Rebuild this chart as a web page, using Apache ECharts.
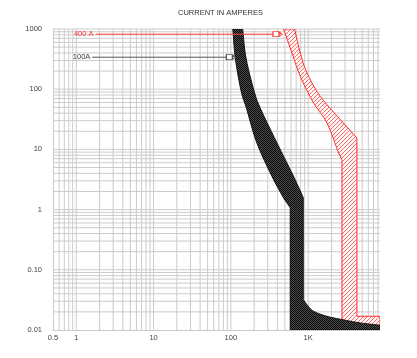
<!DOCTYPE html>
<html><head><meta charset="utf-8">
<script src="https://cdn.jsdelivr.net/npm/echarts@6/dist/echarts.min.js"></script>
<style>html,body{margin:0;padding:0;background:#fff}#c{width:417px;height:358px}</style>
</head><body><div id="c"></div>
<script>
// ---- data ----
const xTickValues = [0.5, 1, 10, 100, 1000];
const xTickLabels = ['0.5', '1', '10', '100', '1K'];
const yTickValues = [0.01, 0.1, 1, 10, 100, 1000];
const yTickLabels = ['0.01', '0.10', '1', '10', '100', '1000'];
const xGridValues = [0.6,0.7,0.8,0.9,1,2,3,4,5,6,7,8,9,10,20,30,40,50,60,70,80,90,100,200,300,400,500,600,700,800,900,1000,2000,3000,4000,5000,6000,7000,8000];
const yGridValues = [0.02,0.03,0.04,0.05,0.06,0.07,0.08,0.09,0.1,0.2,0.3,0.4,0.5,0.6,0.7,0.8,0.9,1,2,3,4,5,6,7,8,9,10,20,30,40,50,60,70,80,90,100,200,300,400,500,600,700,800,900,1000];
// black band (100A): [current A, time s]
const blackLeftCurve = [[106,1000],[114,331],[136,92.3],[161,45.8],[217,12.8],[340,3.57],[480,1.56]];
const blackLeftStep = [[480,1.56],[586,1.08],[586,0.01],[8500,0.01],[8500,0.012]];
const blackRightTail = [[8500,0.012],[4730,0.0131],[2741,0.0149],[1752,0.0169],[1175,0.0205],[965,0.0264],[864,0.032]];
const blackRightCurve = [[864,1.58],[647,3.57],[395,12.8],[245,45.8],[200,92.3],[157,331],[142,1000]];
// red band (400 A)
const redLeftCurve = [[481,1000],[617,401],[790,164],[1175,59.2],[1750,27.5],[2473,8.75]];
const redStep = [[2473,8.75],[2737,6.77],[2737,0.01],[8500,0.01],[8500,0.0169],[4277,0.0169],[4277,15.5],[2601,31.3]];
const redRightCurve = [[2601,31.3],[1434,76.2],[965,187],[790,401],[667,1000]];
// leader lines
const lead100 = [[1.64,340],[100,340]];
const lead400 = [[1.8,820],[400,820]];
const lead100Label = '100A';
const lead400Label = '400 A';
const X_MIN = 0.5, X_MAX = 8500, Y_MIN = 0.01, Y_MAX = 1000;

// ---- patterns ----
function checker(){const c=document.createElement('canvas');c.width=2;c.height=2;const g=c.getContext('2d');g.fillStyle='#4c4c4c';g.fillRect(0,0,2,2);g.fillStyle='#080808';g.fillRect(0,0,1,1);g.fillRect(1,1,1,1);return c;}
function hatch(){const c=document.createElement('canvas');c.width=4;c.height=4;const g=c.getContext('2d');g.fillStyle='#fff6f6';g.fillRect(0,0,4,4);g.strokeStyle='#ff6a6a';g.lineWidth=1;g.beginPath();g.moveTo(0,4);g.lineTo(4,0);g.moveTo(-1,1);g.lineTo(1,-1);g.moveTo(3,5);g.lineTo(5,3);g.stroke();return c;}

function fmt(values, labels){return function(v){for(let i=0;i<values.length;i++){if(Math.abs(v/values[i]-1)<1e-6) return labels[i];}return '';};}

// render-time smoothing (Hermite through the data points in pixel space)
function outline(pieces, api){
  const out = [];
  pieces.forEach(function(pc){
    const px = pc.pts.map(function(p){return api.coord(p);});
    if(!pc.smooth){ px.forEach(function(p){out.push(p);}); return; }
    const n = px.length;
    const tan = px.map(function(p,i){
      if(i===0) return [px[1][0]-p[0], px[1][1]-p[1]];
      if(i===n-1) return [p[0]-px[n-2][0], p[1]-px[n-2][1]];
      return [(px[i+1][0]-px[i-1][0])/2, (px[i+1][1]-px[i-1][1])/2];
    });
    for(let i=0;i<n-1;i++){
      const p0=px[i], p1=px[i+1], m0=tan[i], m1=tan[i+1];
      for(let s=0;s<12;s++){const t=s/12,t2=t*t,t3=t2*t;
        const a=2*t3-3*t2+1,b=t3-2*t2+t,c=-2*t3+3*t2,d=t3-t2;
        out.push([a*p0[0]+b*m0[0]+c*p1[0]+d*m1[0], a*p0[1]+b*m0[1]+c*p1[1]+d*m1[1]]);}
    }
    out.push(px[n-1]);
  });
  return out;
}
function polySeries(pieces, fill, stroke, z){
  const all = [];
  pieces.forEach(function(pc){pc.pts.forEach(function(p){all.push(p);});});
  return {type:'custom', coordinateSystem:'cartesian2d', clip:true, silent:true, z:z, data:all,
    renderItem:function(params, api){ if(params.dataIndex!==0) return null;
      return {type:'polygon', shape:{points:outline(pieces, api)}, style:{fill:fill, stroke:stroke, lineWidth:1}}; }};
}
function gridSeries(vals, vertical){
  return {type:'custom', coordinateSystem:'cartesian2d', silent:true, z:1,
    data: vals.map(function(v){return vertical ? [v, Y_MIN] : [X_MIN, v];}),
    renderItem:function(params, api){
      let a,b;
      if(vertical){a=api.coord([api.value(0),Y_MIN]);b=api.coord([api.value(0),Y_MAX]);}
      else {a=api.coord([X_MIN,api.value(1)]);b=api.coord([X_MAX,api.value(1)]);}
      return {type:'line', shape:{x1:a[0],y1:a[1],x2:b[0],y2:b[1]}, style:{stroke:'#cbcbcb', lineWidth:1}};
    }};
}
const arrowPath = 'path://M0,0 L6,0 L9,2.5 L6,5 L0,5 Z M6,0 L6,5';
function leadSeries(pts, text, color, lineColor){
  return {type:'line', z:6, silent:true, animation:false, showSymbol:true,
    lineStyle:{color:lineColor, width:1},
    itemStyle:{color:'#fff', borderColor:lineColor, borderWidth:1},
    data:[
      {value:pts[0], symbol:'circle', symbolSize:1, itemStyle:{color:lineColor, borderWidth:0},
        label:{show:true, position:'left', distance:2, formatter:text, color:color, fontSize:7.5, fontFamily:'Liberation Sans, Arial, sans-serif'}},
      {value:pts[1], symbol:arrowPath, symbolSize:[9,5], symbolKeepAspect:false, label:{show:false}}
    ]};
}

const chart = echarts.init(document.getElementById('c'), null, {renderer:'canvas'});
chart.setOption({
  animation:false,
  backgroundColor:'#fff',
  title:{text:'CURRENT IN AMPERES', left:178, top:9, padding:0, textStyle:{fontSize:7.5, fontWeight:'normal', color:'#333', fontFamily:'Liberation Sans, Arial, sans-serif'}},
  grid:{left:53, right:37, top:29, bottom:28, containLabel:false, outerBoundsMode:'none'},
  xAxis:{type:'log', logBase:10, min:X_MIN, max:X_MAX, splitLine:{show:false}, axisTick:{show:false},
    axisLine:{show:true, onZero:false, lineStyle:{color:'#cbcbcb'}},
    axisLabel:{formatter:fmt(xTickValues,xTickLabels), fontSize:7.5, color:'#444', margin:4, showMinLabel:true, showMaxLabel:true, fontFamily:'Liberation Sans, Arial, sans-serif'}},
  yAxis:{type:'log', logBase:10, min:Y_MIN, max:Y_MAX, splitLine:{show:false}, axisTick:{show:false},
    axisLine:{show:true, onZero:false, lineStyle:{color:'#cbcbcb'}},
    axisLabel:{formatter:fmt(yTickValues,yTickLabels), fontSize:7.5, color:'#444', margin:11, showMinLabel:true, showMaxLabel:true, fontFamily:'Liberation Sans, Arial, sans-serif'}},
  series:[
    gridSeries(xGridValues, true),
    gridSeries(yGridValues, false),
    polySeries([{pts:redLeftCurve,smooth:true},{pts:redStep,smooth:false},{pts:redRightCurve,smooth:true}], {image:hatch(), repeat:'repeat'}, '#ff2a2a', 3),
    polySeries([{pts:blackLeftCurve,smooth:true},{pts:blackLeftStep,smooth:false},{pts:blackRightTail,smooth:true},{pts:blackRightCurve,smooth:true}], {image:checker(), repeat:'repeat'}, '#111', 4),
    leadSeries(lead400, lead400Label, '#ff3030', '#ff4040'),
    leadSeries(lead100, lead100Label, '#444', '#555')
  ]
});
</script></body></html>
